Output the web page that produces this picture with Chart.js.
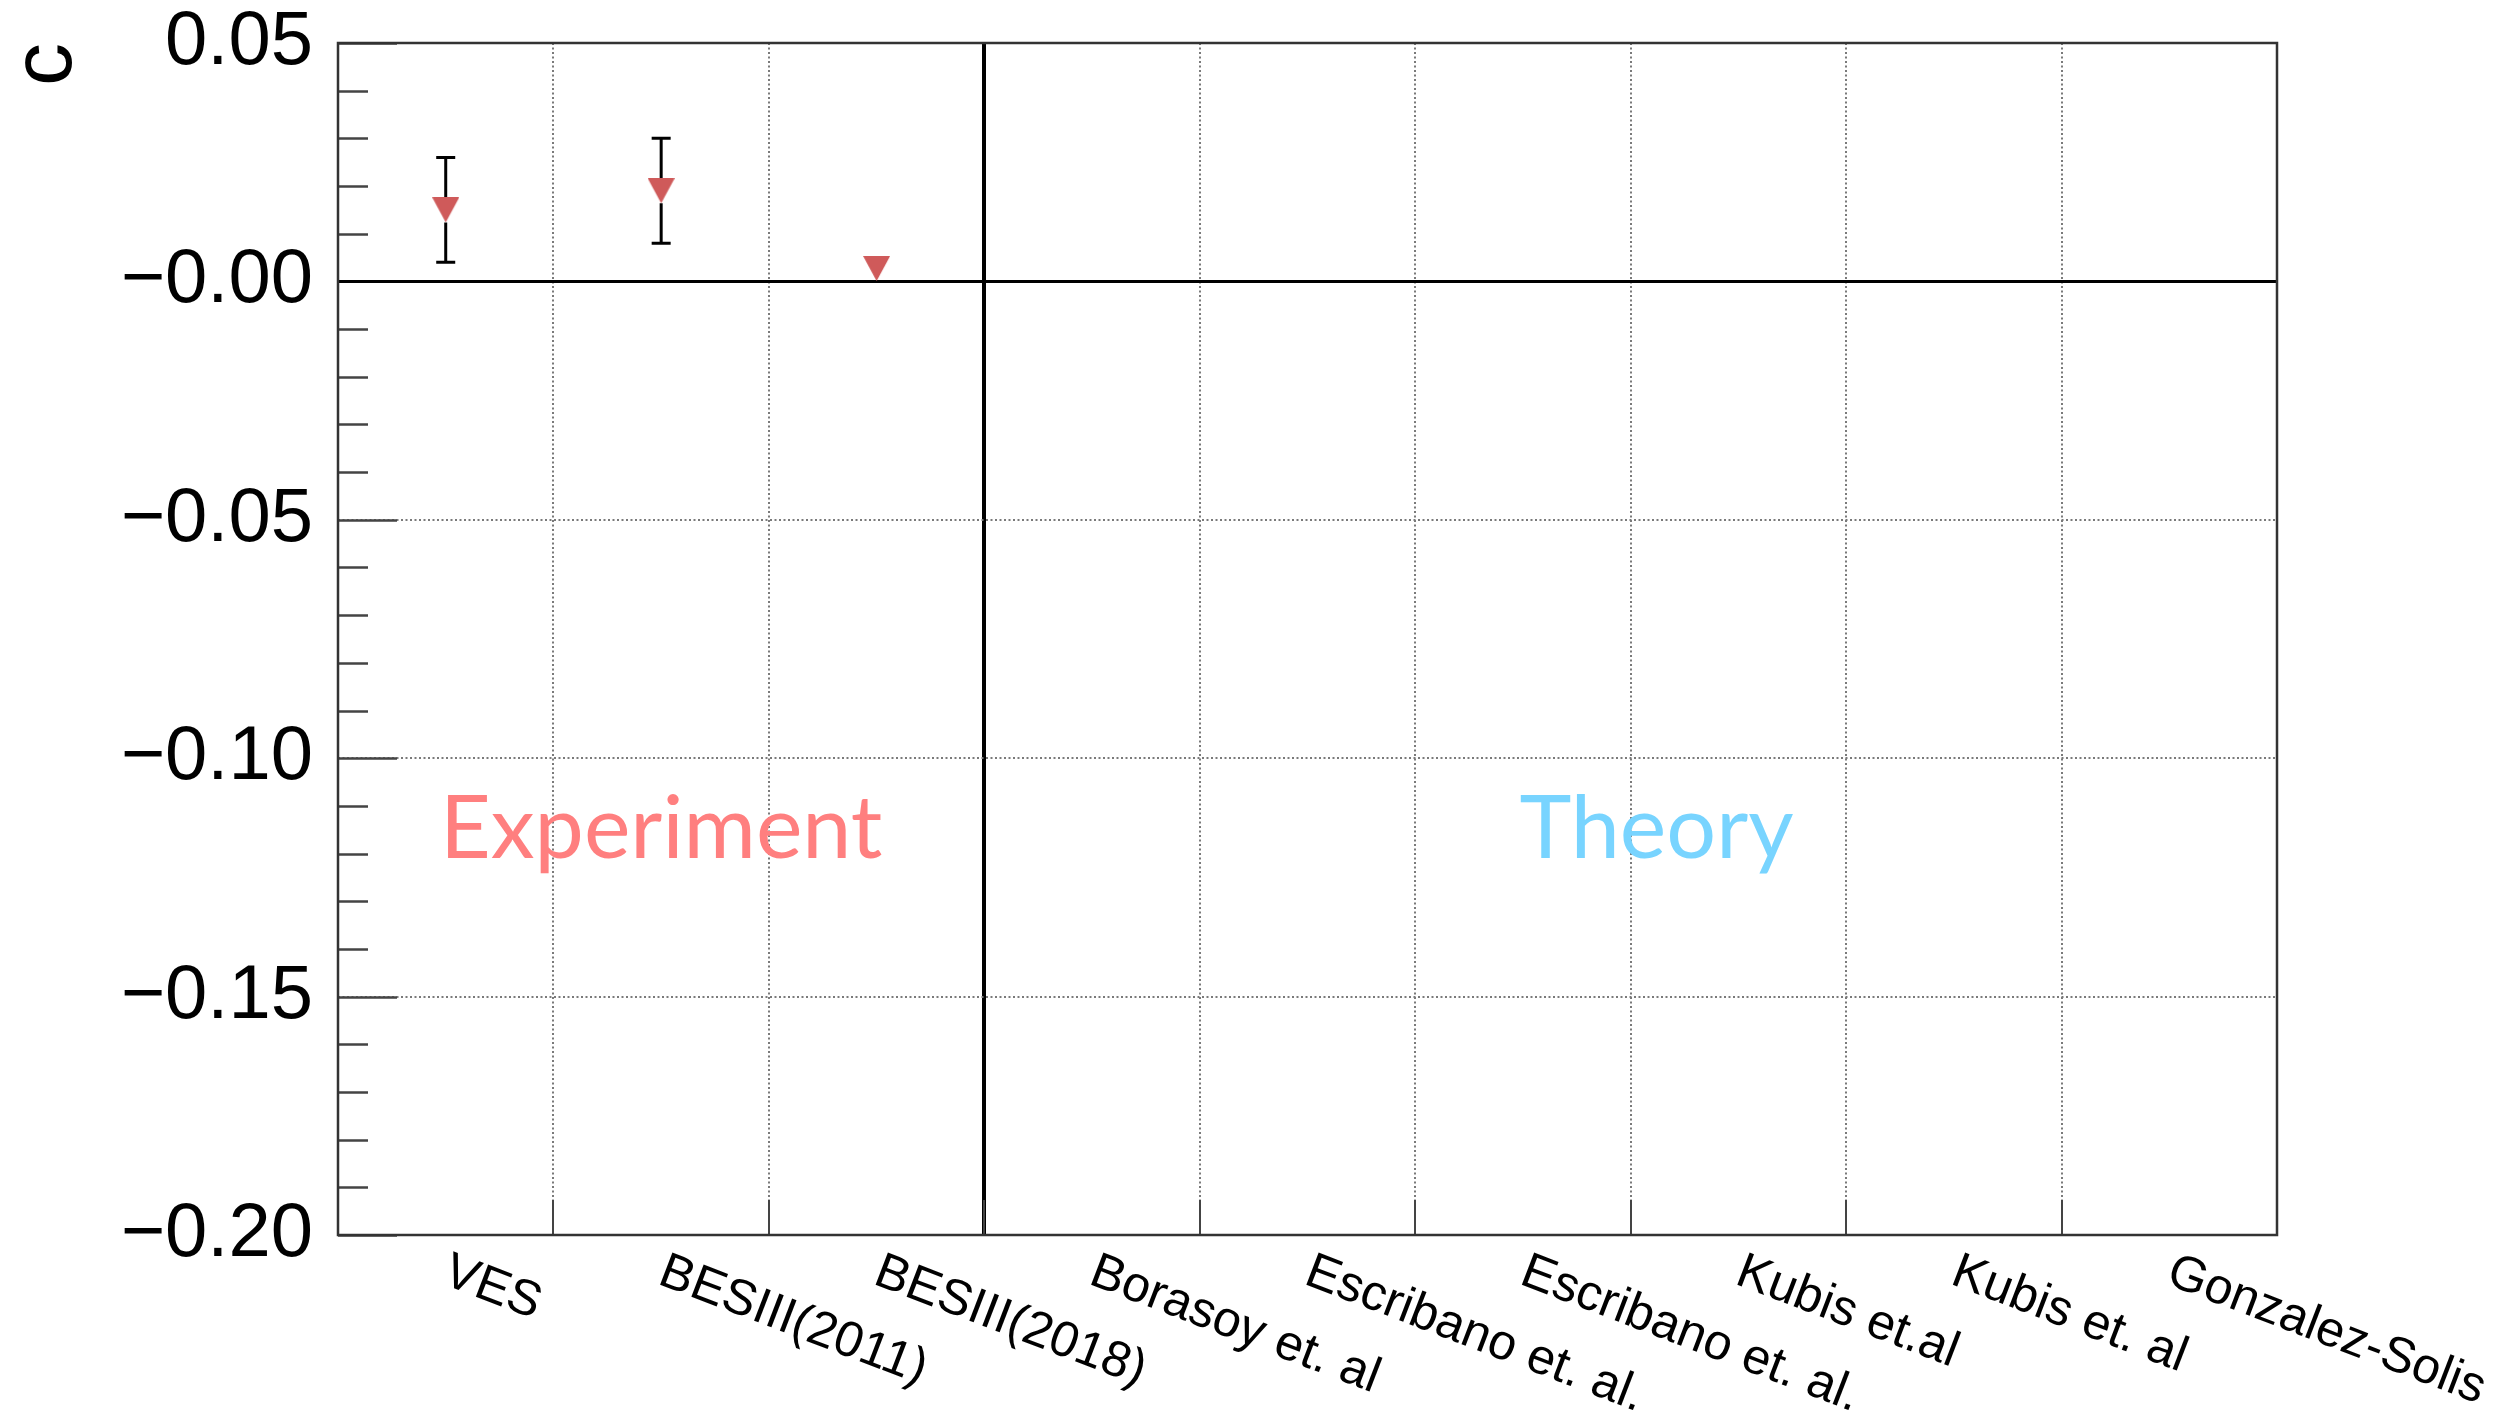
<!DOCTYPE html>
<html>
<head>
<meta charset="utf-8">
<script src="https://cdn.jsdelivr.net/npm/chart.js@4.4.1/dist/chart.umd.min.js"></script>
<style>
  html, body { margin: 0; padding: 0; background: #ffffff; }
  #plot { display: block; }
</style>
</head>
<body>
<canvas id="plot" width="2509" height="1426"></canvas>
<script>
// Dalitz-plot parameter c for eta' -> eta pi pi: measurements and predictions
const categories = [
  'VES', 'BESIII(2011)', 'BESIII(2018)', 'Borasoy et. al',
  'Escribano et. al.', 'Escribano et. al.', 'Kubis et.al', 'Kubis et. al',
  'Gonzalez-Solis'
];
const cValues = [0.015, 0.019, 0.0027, null, null, null, null, null, null];
const cErrors = [0.011, 0.011, 0.0024, null, null, null, null, null, null];

const yTickValues = [0.05, 0, -0.05, -0.10, -0.15, -0.20];
const yTickLabels = ['0.05', '\u22120.00', '\u22120.05', '\u22120.10', '\u22120.15', '\u22120.20'];
const yMinorStep = 0.01;
const yTitle = 'c';

const groupLabels = ['Experiment', 'Theory'];
const groupColors = ['#FF7F7F', '#78D4FF'];
const groupX = [1, 5.62];
const groupY = [-0.121, -0.121];
const firstTheoryIndex = 3;

const AXIS_FONT = "'Liberation Sans', Arial, Helvetica, sans-serif";
const NOTE_FONT = "Lato, 'Open Sans', sans-serif";
const MARKER_W = 27, MARKER_H = 25;
const MARKER_COLOR = '#CF5A5A';
const GRID_COLOR = '#7a7a7a';
const FRAME_COLOR = '#333333';

// downward triangle, centred on its bounding box
function makeTriangleDown(w, h, color) {
  const cv = document.createElement('canvas');
  cv.width = w; cv.height = h;
  const g = cv.getContext('2d');
  g.fillStyle = color;
  g.beginPath();
  g.moveTo(0, 0);
  g.lineTo(w, 0);
  g.lineTo(w / 2, h);
  g.closePath();
  g.fill();
  return cv;
}
const triangleDown = makeTriangleDown(MARKER_W, MARKER_H, MARKER_COLOR);

const near = (a, b) => Math.abs(a - b) < 1e-9;

// vertical error bars, left out where they would hide inside the marker
const errorBars = {
  id: 'errorBars',
  beforeDatasetsDraw(chart) {
    const { ctx } = chart;
    const x = chart.scales.x, y = chart.scales.y;
    const half = MARKER_H / 2, cap = 19;
    ctx.save();
    ctx.strokeStyle = '#000';
    ctx.lineWidth = 3;
    cValues.forEach((v, i) => {
      const e = cErrors[i];
      if (v === null || e === null) return;
      const px = x.getPixelForValue(i);
      const py = y.getPixelForValue(v);
      const pTop = y.getPixelForValue(v + e);
      const pBot = y.getPixelForValue(v - e);
      ctx.beginPath();
      if (py - pTop > half) {
        ctx.moveTo(px, py - half); ctx.lineTo(px, pTop);
        ctx.moveTo(px - cap / 2, pTop); ctx.lineTo(px + cap / 2, pTop);
      }
      if (pBot - py > half) {
        ctx.moveTo(px, py + half); ctx.lineTo(px, pBot);
        ctx.moveTo(px - cap / 2, pBot); ctx.lineTo(px + cap / 2, pBot);
      }
      ctx.stroke();
    });
    ctx.restore();
  }
};

// frame, inward tick marks, group notes and slanted category labels
const decorations = {
  id: 'decorations',
  afterDraw(chart) {
    const { ctx, chartArea: a } = chart;
    const x = chart.scales.x, y = chart.scales.y;
    ctx.save();

    // y ticks (major and minor) pointing into the plot
    ctx.strokeStyle = '#444';
    ctx.lineWidth = 2.5;
    const n = Math.round((y.max - y.min) / yMinorStep);
    ctx.beginPath();
    for (let k = 0; k <= n; k++) {
      const v = y.min + k * yMinorStep;
      if (Math.abs(v) < 1e-6) continue;
      const major = yTickValues.some(t => Math.abs(t - v) < 1e-6);
      const py = Math.round(y.getPixelForValue(v)) + 0.5;
      ctx.moveTo(a.left, py);
      ctx.lineTo(a.left + (major ? 59 : 30), py);
    }
    ctx.stroke();

    // x ticks at category boundaries
    ctx.lineWidth = 2;
    ctx.beginPath();
    for (let i = 1; i < categories.length; i++) {
      const bx = Math.round((x.getPixelForValue(i - 1) + x.getPixelForValue(i)) / 2);
      ctx.moveTo(bx, a.bottom);
      ctx.lineTo(bx, a.bottom - 35);
    }
    ctx.stroke();

    // frame
    ctx.strokeStyle = FRAME_COLOR;
    ctx.lineWidth = 2.5;
    ctx.strokeRect(a.left, a.top, a.right - a.left, a.bottom - a.top);

    // group notes
    ctx.font = '88px ' + NOTE_FONT;
    ctx.textAlign = 'center';
    ctx.textBaseline = 'alphabetic';
    groupLabels.forEach((t, i) => {
      ctx.fillStyle = groupColors[i];
      ctx.fillText(t, x.getPixelForValue(groupX[i]), y.getPixelForValue(groupY[i]));
    });

    // slanted category labels
    ctx.fillStyle = '#000';
    ctx.font = '50px ' + AXIS_FONT;
    ctx.textAlign = 'left';
    ctx.textBaseline = 'top';
    categories.forEach((t, i) => {
      ctx.save();
      ctx.translate(x.getPixelForValue(i) + 9, a.bottom + 12);
      ctx.rotate(21 * Math.PI / 180);
      ctx.fillText(t, 0, 0);
      ctx.restore();
    });
    ctx.restore();
  }
};

const whiteBackground = {
  id: 'whiteBackground',
  beforeDraw(chart) {
    const { ctx, width, height } = chart;
    ctx.save();
    ctx.fillStyle = '#fff';
    ctx.fillRect(0, 0, width, height);
    ctx.restore();
  }
};

new Chart(document.getElementById('plot'), {
  type: 'line',
  data: {
    labels: categories,
    datasets: [{
      label: yTitle,
      data: cValues,
      showLine: false,
      pointStyle: triangleDown,
      pointRadius: 13,
      pointHoverRadius: 13
    }]
  },
  plugins: [whiteBackground, errorBars, decorations],
  options: {
    responsive: false,
    devicePixelRatio: 1,
    animation: false,
    events: [],
    layout: { padding: { top: 43, right: 232, bottom: 0, left: 0 } },
    plugins: { legend: { display: false }, tooltip: { enabled: false } },
    scales: {
      x: {
        type: 'category',
        offset: true,
        ticks: { display: false },
        grid: {
          offset: true,
          drawTicks: false,
          lineWidth: c => (c.index === firstTheoryIndex ? 4 : 2),
          color: c => {
            if (c.index === undefined || c.index === 0) return 'rgba(0,0,0,0)';
            return c.index === firstTheoryIndex ? '#000' : GRID_COLOR;
          }
        },
        border: {
          display: false,
          dash: c => (c.index === firstTheoryIndex ? [] : [2, 2.5])
        },
        afterFit: s => { s.height = 191; }
      },
      y: {
        min: yTickValues[yTickValues.length - 1],
        max: yTickValues[0],
        afterBuildTicks: s => { s.ticks = yTickValues.map(v => ({ value: v })); },
        ticks: {
          padding: 25,
          color: '#000',
          font: { family: AXIS_FONT, size: 76, lineHeight: 1 },
          callback: v => {
            const i = yTickValues.findIndex(t => near(t, v));
            return i >= 0 ? yTickLabels[i] : '';
          }
        },
        grid: {
          drawTicks: false,
          lineWidth: c => (c.tick && near(c.tick.value, 0) ? 3 : 2),
          color: c => {
            if (!c.tick) return 'rgba(0,0,0,0)';
            const v = c.tick.value;
            if (near(v, 0)) return '#000';
            if (near(v, yTickValues[0]) || near(v, yTickValues[yTickValues.length - 1])) return 'rgba(0,0,0,0)';
            return GRID_COLOR;
          }
        },
        border: {
          display: false,
          dash: c => (c.tick && near(c.tick.value, 0) ? [] : [2, 2.5])
        },
        title: {
          display: true,
          text: yTitle,
          align: 'end',
          color: '#000',
          font: { family: AXIS_FONT, size: 86, lineHeight: 0.93 },
          padding: { top: 7, bottom: 0 }
        },
        afterFit: s => { s.width = 338; s.paddingTop = 0; s.paddingBottom = 0; }
      }
    }
  }
});
</script>
</body>
</html>
